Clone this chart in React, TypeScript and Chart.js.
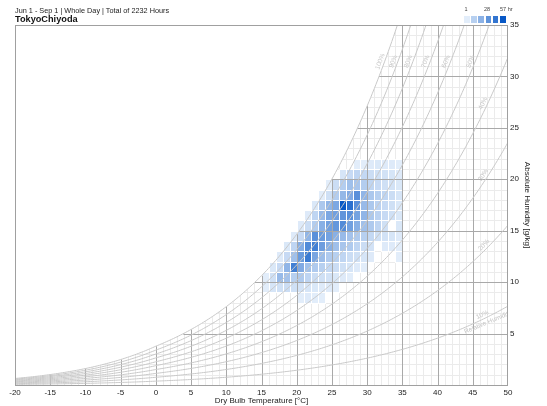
import React, { useEffect, useRef } from "react";
import { Chart, registerables } from "chart.js";

Chart.register(...registerables);

// ---------- texts ----------
const subtitleText = "Jun 1 - Sep 1 | Whole Day | Total of 2232 Hours";
const stationName = "TokyoChiyoda";
const xAxisTitle = "Dry Bulb Temperature [°C]";
const yAxisTitle = "Absolute Humidity [g/kg]";
const rhCaption = "Relative Humidity";

// ---------- axes ----------
const xTickValues = [-20, -15, -10, -5, 0, 5, 10, 15, 20, 25, 30, 35, 40, 45, 50];
const yTickValues = [5, 10, 15, 20, 25, 30, 35];

// ---------- heatmap bins (cell = [T, T+1) x [W, W+1)) ----------
const tempBins = [15, 16, 17, 18, 19, 20, 21, 22, 23, 24, 25, 26, 27, 28, 29, 30, 31, 32, 33, 34, 35];
const humidityBins = [8, 9, 10, 11, 12, 13, 14, 15, 16, 17, 18, 19, 20, 21];

// hours per temperature bin, one list per humidity bin
const hoursW8 = [0, 0, 0, 0, 0, 1, 2, 1, 1, 0, 0, 0, 0, 0, 0, 0, 0, 0, 0, 0, 0];
const hoursW9 = [1, 4, 6, 7, 6, 5, 4, 3, 2, 2, 1, 0, 0, 0, 0, 0, 0, 0, 0, 0, 0];
const hoursW10 = [1, 6, 20, 17, 12, 14, 10, 7, 6, 5, 3, 2, 1, 0, 0, 0, 0, 0, 0, 0, 0];
const hoursW11 = [0, 3, 8, 22, 42, 26, 18, 14, 12, 9, 7, 6, 4, 2, 1, 0, 0, 0, 0, 0, 0];
const hoursW12 = [0, 0, 2, 8, 18, 32, 44, 28, 19, 14, 12, 10, 7, 6, 4, 2, 0, 0, 0, 1, 0];
const hoursW13 = [0, 0, 0, 3, 10, 25, 38, 42, 31, 24, 18, 16, 14, 10, 7, 5, 0, 2, 2, 1, 0];
const hoursW14 = [0, 0, 0, 0, 2, 8, 22, 36, 32, 29, 24, 20, 17, 14, 12, 9, 6, 5, 4, 2, 0];
const hoursW15 = [0, 0, 0, 0, 0, 2, 7, 13, 24, 30, 33, 38, 30, 24, 18, 14, 10, 6, 0, 3, 0];
const hoursW16 = [0, 0, 0, 0, 0, 0, 2, 10, 20, 27, 30, 34, 36, 29, 22, 15, 11, 8, 6, 3, 0];
const hoursW17 = [0, 0, 0, 0, 0, 0, 0, 3, 15, 22, 27, 57, 48, 36, 20, 15, 11, 8, 6, 3, 0];
const hoursW18 = [0, 0, 0, 0, 0, 0, 0, 0, 1, 6, 13, 21, 26, 36, 22, 15, 12, 10, 7, 4, 0];
const hoursW19 = [0, 0, 0, 0, 0, 0, 0, 0, 0, 1, 7, 13, 18, 16, 13, 10, 8, 6, 5, 3, 0];
const hoursW20 = [0, 0, 0, 0, 0, 0, 0, 0, 0, 0, 0, 4, 8, 10, 9, 7, 6, 5, 4, 2, 0];
const hoursW21 = [0, 0, 0, 0, 0, 0, 0, 0, 0, 0, 0, 0, 0, 1, 1, 2, 3, 2, 2, 1, 0];

const hourRows = [
  hoursW8, hoursW9, hoursW10, hoursW11, hoursW12, hoursW13, hoursW14,
  hoursW15, hoursW16, hoursW17, hoursW18, hoursW19, hoursW20, hoursW21,
];

// ---------- relative humidity curves ----------
const rhLevels = [10, 20, 30, 40, 50, 60, 70, 80, 90, 100];

// ---------- legend ----------
const minHours = 1;
const maxHours = 57;
const legendSteps = [1, 12, 23, 35, 46, 57];
const legendLabels = ["1", "28", "57 hr"];

const FONT = "'Liberation Sans', Arial, Helvetica, sans-serif";
const PRESSURE = 1013.25;

function satPressure(t: number): number {
  if (t >= 0) return 6.112 * Math.exp((17.62 * t) / (243.12 + t));
  return 6.112 * Math.exp((22.46 * t) / (272.62 + t));
}
function humidityRatio(t: number, rh: number): number {
  const pv = (rh / 100) * satPressure(t);
  return (622 * pv) / (PRESSURE - pv);
}
function tempForHumidity(w: number, rh: number): number {
  let lo = -60, hi = 90;
  for (let i = 0; i < 60; i++) {
    const mid = (lo + hi) / 2;
    if (humidityRatio(mid, rh) < w) lo = mid; else hi = mid;
  }
  return (lo + hi) / 2;
}

function heatColor(v: number): string {
  const t = Math.max(0, Math.min(1, (v - minHours) / (maxHours - minHours)));
  const c0 = [226, 237, 250];
  const c1 = [8, 88, 198];
  const c = c0.map((a, i) => Math.round(a + (c1[i] - a) * t));
  return `rgb(${c[0]},${c[1]},${c[2]})`;
}

function curveData(rh: number) {
  const pts: { x: number; y: number }[] = [];
  for (let i = 0; i <= 280; i++) {
    const t = -20 + i * 0.25;
    const w = humidityRatio(t, rh);
    pts.push({ x: t, y: w });
    if (w > 36) break;
  }
  return pts;
}

const psychroPlugin = {
  id: "psychro",
  beforeDatasetsDraw(chart: any) {
    const { ctx, chartArea, scales } = chart;
    const x = scales.x, y = scales.y;
    const px = (v: number) => Math.round(x.getPixelForValue(v));
    const py = (v: number) => Math.round(y.getPixelForValue(v));
    ctx.save();
    ctx.beginPath();
    ctx.rect(chartArea.left, chartArea.top, chartArea.right - chartArea.left, chartArea.bottom - chartArea.top);
    ctx.clip();

    const drawGrid = (major: boolean) => {
      ctx.strokeStyle = major ? "#a9a9a9" : "#ebebeb";
      ctx.lineWidth = 1;
      ctx.beginPath();
      for (let t = -20; t <= 50; t++) {
        if ((t % 5 === 0) !== major) continue;
        const wTop = Math.min(humidityRatio(t, 100), 35);
        const xx = px(t) + 0.5;
        ctx.moveTo(xx, py(0));
        ctx.lineTo(xx, y.getPixelForValue(wTop));
      }
      for (let w = 1; w <= 35; w++) {
        if ((w % 5 === 0) !== major) continue;
        const ts = tempForHumidity(w, 100);
        const yy = py(w) + 0.5;
        ctx.moveTo(x.getPixelForValue(ts), yy);
        ctx.lineTo(px(50), yy);
      }
      ctx.stroke();
    };

    drawGrid(false);

    hourRows.forEach((row, ri) => {
      const w = humidityBins[ri];
      row.forEach((h, ci) => {
        if (!h) return;
        const t = tempBins[ci];
        const x0 = px(t), x1 = px(t + 1);
        const y0 = py(w + 1), y1 = py(w);
        ctx.fillStyle = "#ffffff";
        ctx.fillRect(x0, y0, x1 - x0 + 1, y1 - y0 + 1);
        ctx.fillStyle = heatColor(h);
        ctx.fillRect(x0 + 1, y0 + 1, x1 - x0 - 1, y1 - y0 - 1);
      });
    });

    drawGrid(true);
    ctx.restore();
  },
  afterDatasetsDraw(chart: any) {
    const { ctx, chartArea, scales } = chart;
    const x = scales.x, y = scales.y;
    ctx.save();
    ctx.beginPath();
    ctx.rect(chartArea.left, chartArea.top, chartArea.right - chartArea.left, chartArea.bottom - chartArea.top);
    ctx.clip();
    ctx.fillStyle = "#c6c6c6";
    ctx.font = `6.5px ${FONT}`;
    const put = (t: number, rh: number, text: string, align: string, above: boolean) => {
      const ax = x.getPixelForValue(t - 0.3), ay = y.getPixelForValue(humidityRatio(t - 0.3, rh));
      const bx = x.getPixelForValue(t + 0.3), by = y.getPixelForValue(humidityRatio(t + 0.3, rh));
      const cx = x.getPixelForValue(t), cy = y.getPixelForValue(humidityRatio(t, rh));
      const ang = Math.atan2(by - ay, bx - ax);
      ctx.save();
      ctx.translate(cx, cy);
      ctx.rotate(ang);
      ctx.textAlign = align;
      ctx.textBaseline = above ? "bottom" : "top";
      ctx.fillText(text, 0, above ? -1 : 1);
      ctx.restore();
    };
    rhLevels.forEach((rh) => {
      const hitsTop = humidityRatio(50, rh) > 35;
      if (rh === 10) {
        put(46.6, rh, "10%", "center", true);
        put(43.6, rh, rhCaption, "left", false);
      } else if (hitsTop) {
        put(tempForHumidity(31.3, rh), rh, `${rh}%`, "center", true);
      } else {
        put(47, rh, `${rh}%`, "center", true);
      }
    });
    ctx.restore();

    // plot border
    ctx.save();
    ctx.strokeStyle = "#a0a0a0";
    ctx.lineWidth = 1;
    ctx.strokeRect(chartArea.left + 0.5, chartArea.top + 0.5, chartArea.right - chartArea.left - 1, chartArea.bottom - chartArea.top);
    ctx.restore();
  },
};

export default function App() {
  const canvasRef = useRef<HTMLCanvasElement | null>(null);

  useEffect(() => {
    const canvas = canvasRef.current;
    if (!canvas) return;
    const chart = new Chart(canvas, {
      type: "scatter",
      data: {
        datasets: rhLevels.map((rh) => ({
          label: `${rh}%`,
          data: curveData(rh),
          showLine: true,
          borderColor: "#c9c9c9",
          borderWidth: 1,
          pointRadius: 0,
          fill: false,
          tension: 0,
        })),
      },
      options: {
        animation: false,
        responsive: false,
        devicePixelRatio: 1,
        events: [],
        layout: { padding: { left: 15, top: 25, right: 0, bottom: 0 } },
        plugins: { legend: { display: false }, tooltip: { enabled: false }, title: { display: false } },
        scales: {
          x: {
            type: "linear",
            position: "bottom",
            min: -20,
            max: 50,
            grid: { display: false, drawTicks: false },
            border: { display: false },
            afterBuildTicks: (s: any) => {
              s.ticks = xTickValues.map((v) => ({ value: v }));
            },
            ticks: {
              autoSkip: false,
              maxRotation: 0,
              padding: 3,
              color: "#222",
              font: { size: 8, family: FONT },
            },
            title: {
              display: true,
              text: xAxisTitle,
              color: "#222",
              font: { size: 8, family: FONT },
              padding: { top: 0, bottom: 0 },
            },
            afterFit: (s: any) => {
              s.height = 21;
            },
          },
          y: {
            type: "linear",
            position: "right",
            min: 0,
            max: 35,
            grid: { display: false, drawTicks: false },
            border: { display: false },
            afterBuildTicks: (s: any) => {
              s.ticks = yTickValues.map((v) => ({ value: v }));
            },
            ticks: {
              autoSkip: false,
              padding: 2,
              color: "#222",
              font: { size: 8, family: FONT },
            },
            title: {
              display: true,
              text: yAxisTitle,
              color: "#222",
              font: { size: 8, family: FONT },
              padding: { top: 15, bottom: 0 },
            },
            afterFit: (s: any) => {
              s.width = 39;
            },
          },
        },
      } as any,
      plugins: [psychroPlugin],
    });
    return () => chart.destroy();
  }, []);

  const legendX0 = 464;
  return (
    <div style={{ position: "fixed", left: 0, top: 0, width: 547, height: 406, background: "#fff", overflow: "hidden", fontFamily: FONT }}>
      <canvas ref={canvasRef} width={547} height={406} style={{ position: "absolute", left: 0, top: 0, width: 547, height: 406 }} />
      <div style={{ position: "absolute", left: 15, top: 6, fontSize: 7.3, lineHeight: "9px", color: "#222", whiteSpace: "nowrap" }}>
        {subtitleText}
      </div>
      <div style={{ position: "absolute", left: 15, top: 14, fontSize: 9.2, lineHeight: "11px", fontWeight: "bold", color: "#111", whiteSpace: "nowrap" }}>
        {stationName}
      </div>
      {legendSteps.map((v, i) => (
        <div key={i} style={{ position: "absolute", left: legendX0 + i * 7.2, top: 16, width: 5.5, height: 7, background: heatColor(v) }} />
      ))}
      <div style={{ position: "absolute", left: 462, top: 6, width: 8, textAlign: "center", fontSize: 5.5, lineHeight: "7px", color: "#444" }}>{legendLabels[0]}</div>
      <div style={{ position: "absolute", left: 482, top: 6, width: 10, textAlign: "center", fontSize: 5.5, lineHeight: "7px", color: "#444" }}>{legendLabels[1]}</div>
      <div style={{ position: "absolute", left: 500, top: 6, fontSize: 5.5, lineHeight: "7px", color: "#444", whiteSpace: "nowrap" }}>{legendLabels[2]}</div>
    </div>
  );
}
